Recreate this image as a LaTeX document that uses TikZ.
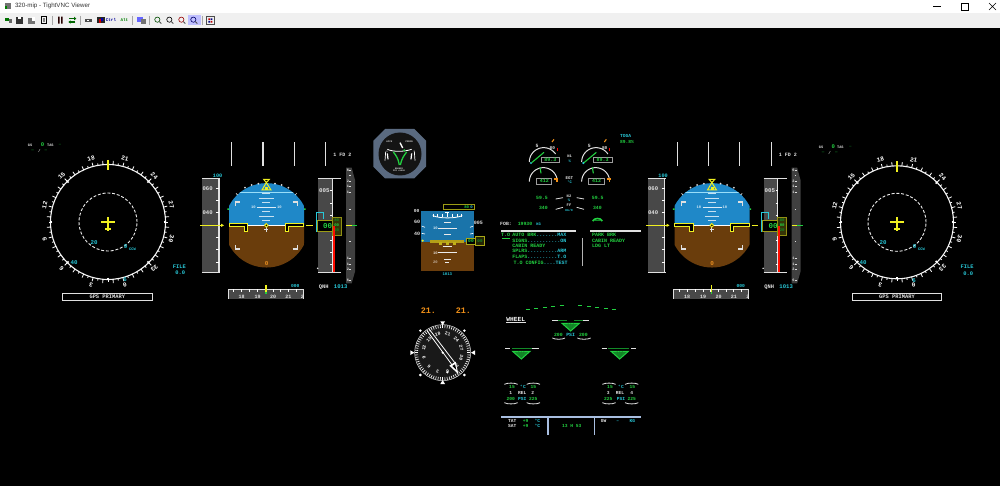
\documentclass[tikz,border=0pt]{standalone}
\usepackage{fontspec}
\setmainfont{Liberation Mono}[UprightFont={* Bold}]
\newfontfamily\uisans{Liberation Sans}
\usetikzlibrary{shapes.geometric}
\newcount\mylabn
\definecolor{cyn}{HTML}{28C8D8}
\definecolor{grn}{HTML}{22D040}
\definecolor{dgrn}{HTML}{128A28}
\definecolor{ylw}{HTML}{F0F020}
\definecolor{tape}{HTML}{484848}
\definecolor{vsg}{HTML}{404040}
\definecolor{sky}{HTML}{1F88C8}
\definecolor{earth}{HTML}{6A3D0C}
\definecolor{lwht}{HTML}{E0E0E0}
\definecolor{ambr}{HTML}{F09018}
\definecolor{sblue}{HTML}{A8BEE0}
\definecolor{bar}{HTML}{F0F0F0}
\definecolor{bezel}{HTML}{5A6A80}
\tikzset{
 txt/.style={inner sep=0pt,outer sep=0pt,anchor=center},
 zoomat/.style 2 args={shift={(#1pt,-#2pt)},x=.33333pt,y=-.33333pt},
 ticky/.style={white,line width=.8pt},
 icon/.style={line width=.6pt}
}
\newcommand{\lab}[6][]{\global\advance\mylabn by 1 \node[txt,text=#2,font=\fontsize{#3}{#3}\selectfont,#1] (t\the\mylabn) at (#4,#5) {#6};}
\newcommand{\memo}[5]{\node[txt,anchor=west,font=\fontsize{5}{5}\selectfont] (#1) at (#2,#3) {\textcolor{grn}{#4}\textcolor{cyn}{#5}};}
% compass display: cx cy r
\newcommand{\hsi}[3]{%
 \draw[white!92!gray,line width=1.1pt] (#1,#2) circle[radius=#3pt];
 \draw[white!85!gray,line width=.9pt,dash pattern=on 3pt off 1.8pt] (#1,#2) circle[radius=29pt];
 \foreach \c in {0,10,...,350}{\draw[ticky] ({#1+#3*sin(\c)},{#2-#3*cos(\c)}) -- ({#1+(#3+2)*sin(\c)},{#2-(#3+2)*cos(\c)});}
 \foreach \c in {5,15,...,355}{\draw[ticky] ({#1+#3*sin(\c)},{#2-#3*cos(\c)}) -- ({#1+(#3+3.8)*sin(\c)},{#2-(#3+3.8)*cos(\c)});}
 \foreach \c in {45,90,135,180,225,270,315}{\draw[white,line width=1.6pt] ({#1+(#3-1.8)*sin(\c)},{#2-(#3-1.8)*cos(\c)}) -- ({#1+(#3+.3)*sin(\c)},{#2-(#3+.3)*cos(\c)});}
 \foreach \c/\t in {15/21,45/24,75/27,105/30,135/33,165/0,195/3,225/6,255/9,285/12,315/15,345/18}{%
  \lab[rotate=-\c]{white}{6.2}{{#1+(#3+8)*sin(\c)}}{{#2-(#3+8)*cos(\c)}}{\t}}
 \draw[ylw,line width=1.4pt] (#1,#2-#3-4.5) -- (#1,#2-#3+6);
 \draw[ylw,line width=1.6pt] (#1-7,#2) -- (#1+7,#2) (#1,#2-5) -- (#1,#2+9) (#1-2.7,#2+7) -- (#1+2.7,#2+7);
 \lab{cyn}{5.8}{#1-14}{#2+20.5}{20}
 \lab{cyn}{5.8}{#1+17.6}{#2+24.5}{9}
 \lab{cyn}{3.8}{#1+24.5}{#2+27.2}{CCW}
 \lab{cyn}{5.8}{#1-34}{#2+40.5}{40}
 \lab{cyn}{5.8}{#1+17}{#2+58}{6}
}
% PFD in zoomed-crop units
\newcommand{\pfd}[1]{\begin{scope}[zoomat={#1}{135}]
 \foreach \x in {110,204,298,392}{\draw[lwht,line width=1.1pt] (\x,22) -- (\x,93);}
 \lab{lwht}{5}{442}{58}{1 FD 2}
 % speed tape
 \fill[tape] (22,130) rectangle (72,412);
 \draw[lwht,line width=1.1pt] (22,130) -- (75,130) (72,130) -- (72,412) (22,412) -- (75,412);
 \foreach \y in {160,197,233,270,307,344,381}{\draw[ticky] (64,\y) -- (72,\y);}
 \lab{lwht}{5.6}{38}{160}{060}
 \lab{lwht}{5.6}{38}{233}{040}
 \lab{cyn}{5.2}{68}{121}{100}
 \draw[ylw,line width=1.1pt] (16,271) -- (78,271);
 \fill[ylw] (78,266) -- (87,271) -- (78,276) -- cycle;
 % attitude sphere
 \begin{scope}
  \clip (102,130) rectangle (327,410);
  \clip (214.5,271) circle[radius=42.2pt];
  \fill[sky] (95,135) rectangle (335,271);
  \fill[earth] (95,271) rectangle (335,405);
  \draw[cyan!40!white,line width=.7pt] (130,172) -- (298,172);
 \end{scope}
 \draw[white,line width=1.5pt] (102,271) -- (327,271);
 \foreach \y/\w in {175/12,190/22,203/12,231/12,245/22,258/12}{\draw[white!75!sky,line width=1pt] (214-\w,\y) -- (214+\w,\y);}
 \draw[white!85!sky,line width=1pt] (187,217) -- (243,217);
 \lab{white!80!sky}{3.8}{175}{217}{10}
 \lab{white!80!sky}{3.8}{253}{217}{10}
 % roll scale
 \foreach \p in {(150,158),(170,150),(190,146),(240,146),(260,150),(280,158)}{\fill[lwht] \p circle[radius=1pt];}
 \draw[lwht,line width=.7pt] (128,180) -- (123,175) (300,180) -- (305,175);
 \draw[ylw,line width=1pt] (214,143) -- (201,165) -- (228,165) -- cycle;
 \draw[ylw,line width=1pt] (206,133) -- (223,133) -- (214,143) -- cycle;
 \fill[ylw] (210,156) rectangle (219,165);
 % attitude brackets
 \draw[lwht,line width=1.1pt] (122,213) -- (122,201) -- (135,201) (293,201) -- (307,201) -- (307,213);
 \draw[lwht,line width=1.1pt] (122,330) -- (122,342) -- (135,342) (293,342) -- (307,342) -- (307,330);
 \fill[grn] (97,220) rectangle (102,225) (327,220) rectangle (332,225);
 % aircraft symbol
 \draw[ylw,fill=black,line width=1pt] (103,267) -- (158,267) -- (158,290) -- (148,290) -- (148,276) -- (103,276) -- cycle;
 \draw[ylw,fill=black,line width=1pt] (326,267) -- (270,267) -- (270,290) -- (280,290) -- (280,276) -- (326,276) -- cycle;
 \draw[lwht,line width=1pt] (214,277) -- (214,291) (208,284) -- (220,284);
 \draw[ylw,fill=black,line width=.9pt] (214,271) circle[radius=1.8pt];
 \lab{ambr!80!brown}{6}{215}{387}{0}
 \draw[ylw,line width=1.1pt] (333,271) -- (353,271);
 % altitude tape
 \fill[tape] (369,130) rectangle (412,412);
 \draw[lwht,line width=1.1pt] (369,130) -- (438,130) (412,130) -- (412,412) (369,412) -- (438,412);
 \foreach \y in {167,204,241,278,315,352,389}{\draw[ticky] (405,\y) -- (412,\y);}
 \lab{lwht}{5.8}{388}{167}{005}
 \fill[lwht] (368,400) circle[radius=.9pt];
 \draw[cyn,line width=1pt] (385,252) -- (385,232) -- (363,232) -- (363,290) -- (385,290);
 \draw[ylw!65!black,fill=black,line width=.9pt] (367,256) -- (412,256) -- (412,288) -- (367,288) -- cycle;
 \fill[ylw!22!black] (411,248) rectangle (438,302);
 \draw[ylw!60!black,line width=.9pt] (411,248) rectangle (438,302);
 \lab{grn}{7.5}{398}{272}{00}
 \lab{dgrn}{4}{425}{257}{80}
 \lab{grn}{4}{425}{272}{00}
 \lab{dgrn}{4}{425}{287}{20}
 \fill[red!90!orange] (413,272) rectangle (419,412);
 % VS scale
 \fill[vsg] (453,98) -- (470,98) -- (480,135) -- (480,410) -- (470,445) -- (453,445) -- cycle;
 \foreach \y/\t in {105/6,138/2,155/1,172/1,370/1,387/1,403/2,437/6}{\lab{lwht}{3.6}{459}{\y}{\t}\draw[lwht,line width=.7pt] (463,\y) -- (468,\y);}
 \foreach \y in {122,222,320}{\draw[lwht,line width=.7pt] (463,\y) -- (467,\y);}
 \draw[ylw,line width=1pt] (453,271) -- (470,271);
 \draw[grn,line width=1pt] (470,271) -- (487,271);
 % heading tape
 \fill[tape] (100,463) rectangle (325,492);
 \draw[lwht,line width=1pt] (100,492) -- (100,463) -- (325,463) -- (325,492);
 \foreach \x in {116,140,164,188,211,234,257,280,304}{\draw[ticky] (\x,463) -- (\x,472);}
 \foreach \x/\t in {140/18,188/19,234/20,280/21,322/2}{\lab{lwht}{5}{\x}{485}{\t}}
 \draw[ylw,line width=1.2pt] (213,450) -- (213,470);
 \draw[grn,line width=1.2pt] (213,470) -- (213,477);
 \lab{cyn}{4.6}{301}{453}{000}
 \lab{lwht}{5.4}{386}{456}{QNH}
 \lab{cyn}{5.6}{437}{456}{1013}
\end{scope}}
% brake triangle
\newcommand{\brk}[3]{%
 \fill[dgrn] (#1-#3,#2) -- (#1+#3,#2) -- (#1,#2+23) -- cycle;
 \draw[grn,line width=1pt] (#1-#3,#2) -- (#1+#3,#2) -- (#1,#2+23) -- cycle;
 \draw[grn!60!black,line width=.7pt] (#1-8,#2) -- (#1-3,#2+16) (#1+8,#2) -- (#1+3,#2+16) (#1,#2) -- (#1,#2+20);
}
% wheel status block
\newcommand{\arcs}[3]{% x1 x2 y
 \draw[lwht,line width=.8pt] (#1,#3+3) .. controls (#1+8,#3-2) and (#2-8,#3-2) .. (#2,#3+3);
}
\newcommand{\arcb}[3]{%
 \draw[lwht,line width=.8pt] (#1,#3-3) .. controls (#1+8,#3+2) and (#2-8,#3+2) .. (#2,#3-3);
}
\begin{document}
\begin{tikzpicture}[x=1pt,y=-1pt]
\useasboundingbox (0,0) rectangle (1000,486);
\fill[black] (0,0) rectangle (1000,486);
% window chrome
\fill[white] (0,0) rectangle (1000,13);
\fill[bar] (0,13) rectangle (1000,28);
\node[txt,anchor=west,font=\uisans\fontsize{6.2}{7}\selectfont,text=black!80] (title) at (15,6) {320-mip - TightVNC Viewer};
\begin{scope}[zoomat={0}{0}]
 \fill[black!55] (14,10) rectangle (34,26);
 \fill[green!50!black] (14,18) rectangle (22,26);
 % toolbar icons
 \fill[green!45!black] (15,53) rectangle (26,64);
 \fill[black!60] (26,56) rectangle (36,70);
 \fill[black!80] (48,50) rectangle (68,71);
 \fill[white] (53,51) rectangle (63,58);
 \fill[black!55] (85,55) rectangle (105,71);
 \fill[white] (95,50) rectangle (106,62);
 \draw[black,icon] (124,50) rectangle (140,71);
 \fill[black!50] (130,53) rectangle (134,67);
 \fill[black!85!red] (174,50) rectangle (179,71) (183,50) rectangle (188,71);
 \draw[green!40!black,line width=1.1pt] (208,56) -- (226,56) (226,66) -- (208,66);
 \fill[green!40!black] (222,50) -- (229,56) -- (222,61) -- cycle (212,61) -- (205,66) -- (212,71) -- cycle;
 \fill[black!70] (254,56) rectangle (276,67);
 \fill[white] (261,59) rectangle (268,64);
 \fill[black!85] (292,52) rectangle (314,70);
 \fill[red!80!black] (296,56) rectangle (304,68);
 \fill[blue!70!black] (304,55) rectangle (310,62);
 \lab{blue!60!black}{4.2}{333}{60}{Ctrl}
 \lab{green!50!black}{4.2}{373}{60}{Alt}
 \fill[blue!60] (412,50) rectangle (428,66);
 \fill[black!55] (422,58) rectangle (438,71);
 \fill[blue!25] (564,44) rectangle (602,76);
 \foreach \x/\cc in {472/green!30!black,508/black,544/red!60!black,580/blue!40!black}{%
  \draw[\cc,line width=.6pt] (\x,59) circle[radius=2.6pt];
  \draw[black!70,line width=.9pt] (\x+6,65) -- (\x+12,71);}
 \draw[black!70,line width=.6pt] (619,50) rectangle (642,72);
 \fill[red!75!black] (625,55) rectangle (630,60) (632,63) rectangle (637,68);
 \fill[blue!50!black] (632,55) rectangle (637,60) (625,63) rectangle (630,68);
 \foreach \x in {156,241,398,447,608}{\draw[black!35,line width=.4pt] (\x,48) -- (\x,74);}
\end{scope}
\draw[black,line width=.5pt] (933,6.5) -- (941,6.5);
\draw[black,line width=.5pt] (961.5,3) rectangle (968.5,10);
\draw[black,line width=.5pt] (989,3) -- (996,10) (996,3) -- (989,10);
% NDs
\hsi{108}{222}{57.5}
\hsi{897}{222.3}{56.5}
\begin{scope}[zoomat={20}{135}]
 \lab{lwht}{3.6}{30}{30}{GS}
 \lab{grn}{5.6}{68}{28}{0}
 \lab{lwht}{3.6}{91}{30}{TAS}
 \lab{dgrn}{3.6}{120}{30}{---}
 \lab{dgrn}{4.2}{38}{47}{---}
 \lab{lwht}{4.2}{58}{47}{/}
 \lab{dgrn}{4.2}{78}{47}{---}
 \lab{cyn}{5.4}{478}{395}{FILE}
 \lab{cyn}{5.4}{481}{414}{0.0}
 \draw[lwht,line width=.9pt] (128,476) rectangle (398,497);
 \lab{lwht}{5.4}{262}{486}{GPS PRIMARY}
\end{scope}
\begin{scope}[zoomat={815}{135}]
 \lab{lwht}{3.6}{18}{37}{GS}
 \lab{grn}{5.6}{55}{36}{0}
 \lab{lwht}{3.6}{76}{37}{TAS}
 \lab{dgrn}{3.6}{106}{37}{---}
 \lab{dgrn}{4.2}{24}{55}{---}
 \lab{lwht}{4.2}{44}{55}{/}
 \lab{dgrn}{4.2}{64}{55}{---}
 \lab{cyn}{5.4}{456}{396}{FILE}
 \lab{cyn}{5.4}{460}{415}{0.0}
 \draw[lwht,line width=.9pt] (112,476) rectangle (380,497);
 \lab{lwht}{5.4}{246}{486}{GPS PRIMARY}
\end{scope}
\pfd{195}
\pfd{640.5}
% triple brake indicator and standby horizon
\begin{scope}[zoomat={365}{120}]
 \fill[bezel] (60,27) -- (148,27) -- (183,62) -- (183,140) -- (148,175) -- (60,175) -- (25,140) -- (25,62) -- cycle;
 \fill[black!92] (105,102) circle[radius=21.5pt];
 \lab{lwht}{2.4}{73}{66}{ACCU}
 \lab{lwht}{2.4}{133}{66}{PRESS}
 \draw[white,line width=.8pt] (67,88) .. controls (85,96) and (115,96) .. (140,88);
 \draw[white,line width=1.4pt] (105,68) -- (113,84);
 \fill[grn] (118,91) circle[radius=1.2pt];
 \draw[grn,line width=1.3pt] (103,135) .. controls (100,115) and (92,105) .. (85,96);
 \draw[grn,line width=1.3pt] (106,135) .. controls (110,115) and (118,105) .. (125,96);
 \draw[white,line width=.7pt] (62,95) -- (60,122) (148,95) -- (150,122);
 \draw[white,line width=1.2pt] (67,100) -- (69,118) (140,100) -- (138,118);
 \lab{lwht}{2.2}{66}{95}{3}
 \lab{lwht}{2.2}{148}{95}{3}
 \lab{lwht}{2.2}{102}{145}{BRAKES}
 \lab{lwht}{2.2}{102}{153}{PSI x1000}
 % standby horizon
 \fill[black!15!sky] (168,272) rectangle (326,365);
 \fill[earth] (168,365) rectangle (326,452);
 \draw[ylw!65!black,line width=1pt,fill=black] (235,253) rectangle (327,269);
 \lab{grn}{4}{305}{261}{80}
 \lab{cyn}{4}{320}{261}{0}
 \lab{lwht}{4.6}{155}{273}{00}
 \lab{lwht}{5}{156}{307}{60}
 \lab{lwht}{5}{156}{342}{40}
 \lab{lwht}{5}{340}{308}{005}
 \draw[white,line width=.8pt] (203,287) .. controls (225,296) and (270,296) .. (292,287);
 \foreach \a in {205,218,232,262,276,290}{\draw[white,line width=.7pt] (\a,281) -- (\a,291);}
 \draw[white,line width=1.3pt] (241,277) -- (253,277) (247,277) -- (247,292);
 \draw[white,line width=.6pt] (170,318) -- (180,322) (325,318) -- (315,322) (170,340) -- (180,342) (325,340) -- (315,342);
 \foreach \y/\w in {308/10,325/28,342/10,378/14,398/28,417/10,427/6}{\draw[white!85!gray,line width=.8pt] (247-\w,\y) -- (247+\w,\y);}
 \lab{white!80!sky}{3.8}{211}{326}{10}
 \lab{white!80!earth}{3.8}{211}{399}{10}
 \lab{white!60!earth}{3.8}{211}{428}{20}
 \fill[ylw] (173,362) circle[radius=1.2pt];
 \fill[ylw!55!earth] (195,360) rectangle (298,368);
 \foreach \x in {226,247,268}{\fill[ylw!65!earth] (\x-4,366) rectangle (\x+4,374);}
 \draw[ylw!70!black,fill=black,line width=.9pt] (304,354) rectangle (332,372);
 \fill[ylw!15!black] (332,349) rectangle (358,376);
 \draw[ylw!70!black,line width=.9pt] (332,349) rectangle (358,376);
 \lab{grn}{4.6}{318}{363}{00}
 \lab{dgrn}{4.2}{345}{362}{00}
 \lab{cyn}{4}{247}{464}{1013}
\end{scope}
% clock and compass card
\begin{scope}[zoomat={395}{300}]
 \lab{ambr}{8.4}{100}{33}{21.}
 \lab{ambr}{8.4}{205}{33}{21.}
 \fill[black!90] (143,158) circle[radius=28pt];
 \foreach \c in {0,5,...,355}{\draw[white,line width=.6pt] ({143+74*sin(\c)},{158-74*cos(\c)}) -- ({143+83*sin(\c)},{158-83*cos(\c)});}
 \draw[white!85!black,line width=.5pt] (143,158) circle[radius=28pt];
 \foreach \c/\t in {15/21,45/24,75/27,105/30,135/33,165/0,195/3,225/6,255/9,285/12,315/15,345/18}{%
  \lab[rotate=-\c]{white}{4.6}{{143+58*sin(\c)}}{{158-58*cos(\c)}}{\t}}
 \fill[white] (136,64) -- (150,64) -- (143,76) -- cycle;
 \fill[white] (136,252) -- (150,252) -- (143,240) -- cycle;
 \fill[white] (46,151) -- (46,165) -- (58,158) -- cycle;
 \fill[white] (240,151) -- (240,165) -- (228,158) -- cycle;
 \foreach \x/\y in {76/92,208/92,76/225,208/225}{\node[diamond,fill=white,inner sep=0pt,minimum width=3pt,minimum height=3pt] (dm\x\y) at (\x,\y) {};}
 \draw[white,line width=.8pt] (96,92) -- (172,196) (103,88) -- (181,190);
 \fill[white] (143,158) circle[radius=1.2pt];
 \fill[white] (163,197) -- (182,185) -- (190,222) -- cycle;
 \fill[black] (172,198) -- (180,193) -- (184,210) -- cycle;
 \fill[white] (157,217) circle[radius=1.2pt];
\end{scope}
% engine display
\begin{scope}[zoomat={495}{130}]
 \foreach \o in {0,157}{\begin{scope}[shift={(\o*.33333pt,0pt)}]
  \draw[lwht,line width=1pt] plot[domain=180:326,samples=40,smooth] ({146+43*cos(\x)},{96+43*sin(\x)});
  \draw[ambr,line width=1.1pt] (171,36) -- (177,28);
  \draw[red,line width=1.1pt] (187,54) -- (187,62);
  \fill[cyn] (108,99) circle[radius=1.2pt];
  \draw[grn,line width=1.1pt] (110,98) -- (147,67);
  \lab{lwht}{4.8}{126}{47}{5}
  \lab{lwht}{4.4}{172}{53}{80}
  \draw[lwht!70!black,line width=.8pt] (138,81) rectangle (194,98);
  \lab{grn}{5}{166}{90}{89.3}
  \draw[lwht,line width=1pt] plot[domain=180:354,samples=40,smooth] ({145+42*cos(\x)},{155+42*sin(\x)});
  \draw[grn,line width=1.1pt] (135,112) -- (138,130);
  \draw[ambr,line width=1.1pt] (178,147) -- (190,147) (186,147) -- (186,155);
  \draw[lwht!70!black,line width=.8pt] (124,145) rectangle (170,162);
  \lab{grn}{5}{148}{153}{412}
 \end{scope}}
 \lab{lwht}{3.8}{224}{80}{N1}
 \lab{cyn}{3.8}{224}{94}{\%}
 \lab{lwht}{4.2}{223}{143}{EGT}
 \lab{cyn}{3.8}{224}{157}{°C}
 \lab{lwht}{3.8}{222}{198}{N2}
 \lab{cyn}{3.8}{222}{211}{\%}
 \lab{lwht}{3.8}{222}{226}{FF}
 \lab{cyn}{3}{222}{240}{KG/H}
 \lab{grn}{4.8}{141}{205}{59.5}
 \lab{grn}{4.8}{308}{205}{59.5}
 \lab{grn}{4.8}{145}{235}{340}
 \lab{grn}{4.8}{307}{235}{340}
 \draw[lwht,line width=.8pt] (182,207) -- (204,203) (245,203) -- (267,207) (182,238) -- (204,232) (245,232) -- (267,238);
 \lab{cyn}{4.6}{392}{18}{TOGA}
 \lab{grn}{4.6}{396}{37}{89.8\%}
\end{scope}
% memo
\begin{scope}[zoomat={495}{212}]
 \lab{lwht}{4.8}{33}{35}{FOB:}
 \lab{grn}{4.8}{90}{35}{19930}
 \lab{cyn}{3.8}{131}{36}{KG}
 \draw[grn,line width=1.6pt] (293,27) .. controls (298,18) and (316,16) .. (322,27);
 \draw[dgrn,line width=1pt] (296,27) -- (319,27);
 \draw[lwht,line width=1.1pt] (18,57) -- (242,57) (285,57) -- (437,57);
 \draw[lwht!80!black,line width=1.1pt] (263,78) -- (263,163);
 \lab{grn}{5}{32}{70}{T.O}
 \draw[grn,line width=.7pt] (21,78) -- (44,78);
 \memo{m1}{52}{70}{AUTO BRK}{.......MAX}
 \memo{m2}{52}{86}{SIGNS}{...........ON}
 \memo{m3}{52}{102}{CABIN READY}{}
 \memo{m4}{52}{118}{SPLRS}{..........ARM}
 \memo{m5}{52}{135}{FLAPS}{..........T.O}
 \memo{m6}{56}{152}{T.O CONFIG}{....TEST}
 \memo{m7}{291}{70}{PARK BRK}{}
 \memo{m8}{291}{86}{CABIN READY}{}
 \memo{m9}{291}{102}{LDG LT}{}
\end{scope}
% wheel page
\begin{scope}[zoomat={495}{300}]
 \lab{white}{6.2}{62}{58}{WHEEL}
 \draw[lwht,line width=.7pt] (34,67) -- (92,67);
 \foreach \x/\y in {98/28,123/25,150/22,175/19,200/16,255/16,282/19,307/22,333/25,358/28}{\draw[grn,line width=1.1pt] (\x-6,\y) -- (\x+6,\y);}
 \draw[lwht,line width=1.2pt] (172,62) -- (188,62) (265,62) -- (282,62);
 \draw[dgrn,line width=1.3pt] (188,62) -- (215,62) (238,62) -- (265,62);
 \brk{227}{70}{26}
 \lab{grn}{4.8}{190}{104}{200}
 \lab{cyn}{4.8}{227}{104}{PSI}
 \lab{grn}{4.8}{265}{104}{200}
 \arcb{172}{210}{117}
 \arcb{247}{287}{117}
 \draw[lwht,line width=1.2pt] (30,146) -- (45,146) (112,146) -- (132,146) (320,146) -- (336,146) (408,146) -- (423,146);
 \draw[dgrn,line width=1.3pt] (52,146) -- (112,146) (340,146) -- (402,146);
 \brk{79}{154}{26}
 \brk{374}{154}{26}
\end{scope}
\begin{scope}[zoomat={495}{375}]
 \foreach \a/\b in {28/68,95/135,322/362,390/430}{\arcs{\a}{\b}{25}\arcb{\a}{\b}{86}}
 \foreach \x/\t/\c/\y in {51/15/grn/36,84/°C/cyn/36,115/15/grn/36,47/1/lwht/54,82/REL/lwht/54,113/2/lwht/54,47/200/grn/72,82/PSI/cyn/72,115/225/grn/72,345/15/grn/36,378/°C/cyn/36,412/15/grn/36,340/3/lwht/54,375/REL/lwht/54,410/4/lwht/54,340/225/grn/72,378/PSI/cyn/72,410/225/grn/72}{\lab{\c}{4.6}{\x}{\y}{\t}}
 \draw[sblue,line width=1.2pt] (18,126) -- (437,126);
 \draw[sblue,line width=1.7pt] (158,126) -- (158,181);
 \draw[sblue,line width=1pt] (298,126) -- (298,181);
 \foreach \x/\y/\t/\c in {52/138/TAT/lwht,92/138/+9/grn,127/138/°C/cyn,52/153/SAT/lwht,92/153/+9/grn,127/153/°C/cyn,230/153/13 H 53/grn,326/139/GW/lwht,368/139/--/cyn,412/139/KG/cyn}{\lab{\c}{4.6}{\x}{\y}{\t}}
\end{scope}
\end{tikzpicture}
\end{document}
